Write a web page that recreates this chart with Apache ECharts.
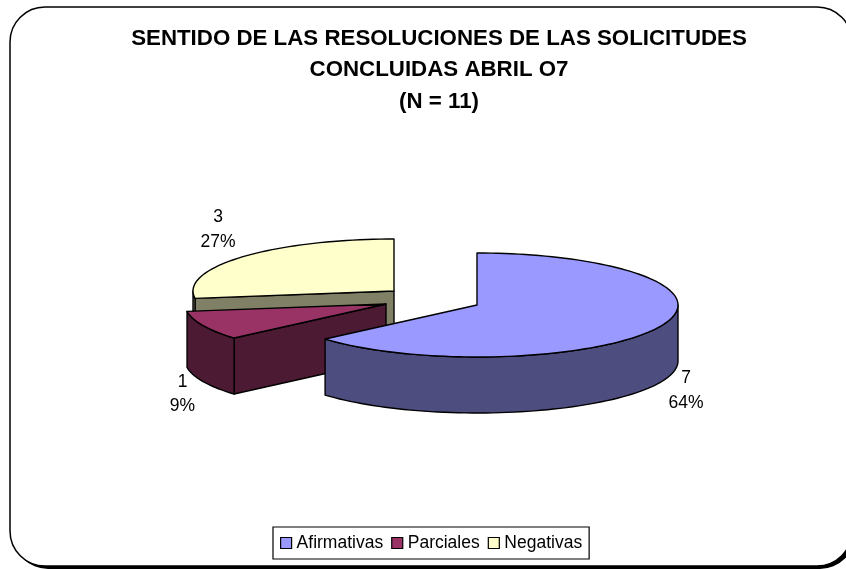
<!DOCTYPE html>
<html><head><meta charset="utf-8">
<style>html,body{margin:0;padding:0;background:#fff}#c{width:846px;height:569px}</style>
<script src="https://cdn.jsdelivr.net/npm/echarts@6/dist/echarts.min.js"></script>
</head><body><div id="c"></div>
<script>
const categories = ['Afirmativas', 'Parciales', 'Negativas'];
const values = [7, 1, 3];
const titleLines = ['SENTIDO DE LAS RESOLUCIONES DE LAS SOLICITUDES', 'CONCLUIDAS ABRIL O7', '(N = 11)'];

const topColors = ['#9999ff', '#993366', '#ffffcc'];
const sideColors = ['#4d4d80', '#4d1a33', '#808066'];
const FONT = '"Liberation Sans", Arial, sans-serif';
const RX = 201, RY = 52, DEPTH = 56;
const centers = [[477, 305], [386, 304], [394, 291]];
const labelAt = [[686, 390.5], [182.5, 394], [218, 229.5]];
const total = values.reduce((a, b) => a + b, 0);

function pt(c, deg, dy) {
  const a = deg * Math.PI / 180;
  return [c[0] + RX * Math.sin(a), c[1] - RY * Math.cos(a) + (dy || 0)];
}
function arc(c, from, to, dy) {
  const out = [], n = Math.max(2, Math.ceil(Math.abs(to - from) / 2));
  for (let i = 0; i <= n; i++) out.push(pt(c, from + (to - from) * i / n, dy));
  return out;
}
const line = { stroke: '#000', lineWidth: 1.4, lineJoin: 'round' };
function poly(points, fill) {
  return { type: 'polygon', shape: { points }, style: Object.assign({ fill }, line) };
}

const starts = values.map((_, i) => values.slice(0, i).reduce((a, b) => a + b, 0));

function renderSlice(idx) {
  return function (params, api) {
    const v = api.value(0);
    const from = starts[idx] / total * 360, to = from + v / total * 360;
    const c = centers[idx], side = sideColors[idx], children = [];
    // cut face turned toward the viewer: the one at the slice's start angle
    if (idx !== 0) {
      const a = pt(c, from), b = [c[0], c[1]];
      children.push(poly([b, a, [a[0], a[1] + DEPTH], [b[0], b[1] + DEPTH]], side));
    }
    // outer rim, front half only (90..270 degrees clockwise from north)
    const rimFrom = Math.max(from, 90), rimTo = Math.min(to, 270);
    if (rimTo > rimFrom) {
      const topArc = arc(c, rimFrom, rimTo), botArc = arc(c, rimFrom, rimTo, DEPTH).reverse();
      children.push(poly(topArc.concat(botArc), side));
    }
    children.push(poly([[c[0], c[1]]].concat(arc(c, from, to)), topColors[idx]));
    const pct = Math.round(v / total * 100);
    children.push({
      type: 'text', z2: 10,
      style: {
        x: labelAt[idx][0], y: labelAt[idx][1], text: v + '\n' + pct + '%',
        font: '17.5px ' + FONT, fill: '#000', align: 'center', verticalAlign: 'middle', lineHeight: 24.5
      }
    });
    return { type: 'group', children };
  };
}

const series = categories.map((name, i) => ({
  type: 'custom', name, coordinateSystem: 'none',
  z: i === 0 ? 5 : (i === 1 ? 4 : 3),
  itemStyle: { color: topColors[i] },
  data: [[values[i]]],
  renderItem: renderSlice(i)
}));

const chart = echarts.init(document.getElementById('c'), null, { renderer: 'canvas' });
chart.setOption({
  animation: false,
  backgroundColor: '#fff',
  graphic: [
    { type: 'rect', z: -2, shape: { x: 13, y: 10, width: 842, height: 559, r: 35 }, style: { fill: '#000' } },
    { type: 'rect', z: -1, shape: { x: 10, y: 7, width: 842, height: 559, r: 35 }, style: { fill: '#fff', stroke: '#000', lineWidth: 1.5 } }
  ],
  title: {
    text: titleLines.join('\n'), left: 434, top: 18, textAlign: 'center',
    textStyle: { fontFamily: FONT, fontSize: 22.3, fontWeight: 'bold', color: '#000', lineHeight: 31.5 }
  },
  legend: {
    data: categories, left: 273, top: 527, orient: 'horizontal', icon: 'rect',
    itemWidth: 11, itemHeight: 11, itemGap: 8,
    padding: [7, 7, 7, 7], borderColor: '#000', borderWidth: 1.2, backgroundColor: '#fff',
    selectedMode: false,
    itemStyle: { borderColor: '#000', borderWidth: 1.2 },
    textStyle: { fontFamily: FONT, fontSize: 17.5, color: '#000' }
  },
  series
});
</script></body></html>
